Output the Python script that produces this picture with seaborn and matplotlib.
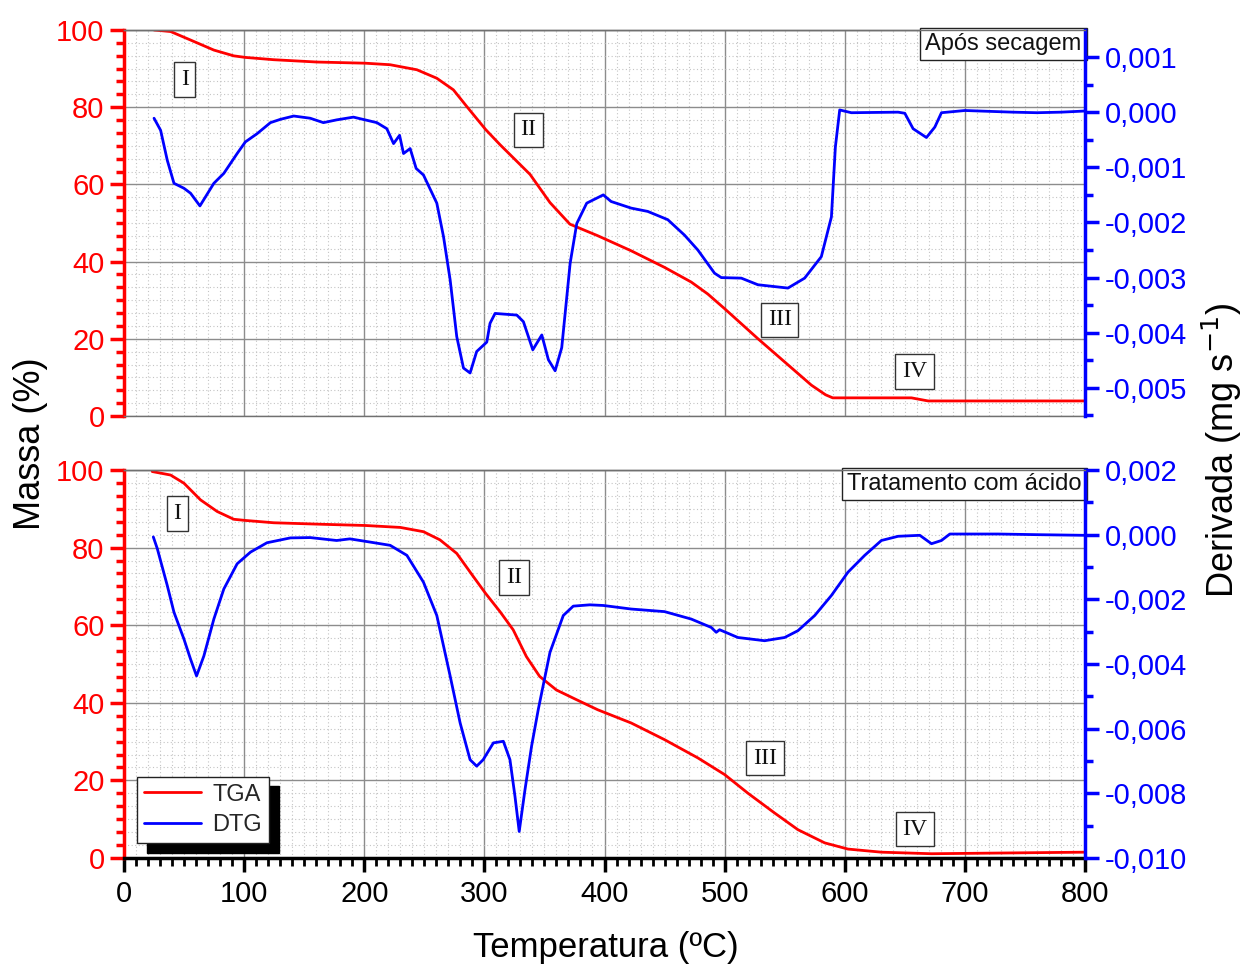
import numpy as np
import pandas as pd
import matplotlib
matplotlib.use("Agg")
import matplotlib.pyplot as plt
from matplotlib.ticker import MultipleLocator, AutoMinorLocator, FuncFormatter
import seaborn as sns

# ---------------- Após secagem ----------------
dry_tga_temp = [25, 38.8, 55.4, 74.8, 91.4, 101, 124.7, 160.7, 200.8, 221.6, 243.8, 260.4,
                274.2, 285.3, 301.1, 313, 338, 354.6, 371.2, 394.4, 422.2, 450, 472.2, 486,
                500, 527.8, 550, 572.2, 584, 590, 655.5, 669.4, 799.4]
dry_tga_mass = [100, 99.6, 97.4, 94.8, 93.3, 92.9, 92.3, 91.7, 91.4, 91.0, 89.7, 87.5,
                84.5, 80.2, 74.2, 70.3, 62.6, 55.3, 49.7, 46.7, 42.8, 38.5, 34.7, 31.6,
                27.8, 20.0, 14.0, 8.0, 5.5, 4.7, 4.7, 3.9, 3.9]

dry_dtg_temp = [25, 30.5, 36, 41.6, 49.9, 55.4, 63.2, 74.8, 83.1, 94.2, 101, 110.8, 121.9,
                130.2, 141.3, 155, 166, 177, 191, 210.5, 218.8, 224.4, 229.4, 232.7, 238.2,
                243.2, 249.3, 260.4, 266, 271.5, 277, 282.6, 288.1, 293.6, 302, 304.7,
                308.9, 327, 332.5, 340.3, 347.8, 353.3, 358.9, 364.4, 371.4, 376.9, 385.2,
                399, 405.5, 422.2, 436, 452.7, 466.6, 477.7, 491.6, 497.2, 513.9, 527.7,
                552.7, 566.6, 580.5, 588.9, 592.2, 595.8, 605.5, 644.4, 650, 656.9, 668,
                675, 680.5, 700, 740, 760, 780, 799.4]
# derivative in units of 1e-3 mg/s
dry_dtg_milli = [-0.11, -0.33, -0.87, -1.29, -1.38, -1.47, -1.70, -1.29, -1.11, -0.75, -0.54,
                 -0.39, -0.19, -0.13, -0.07, -0.11, -0.19, -0.14, -0.09, -0.19, -0.30, -0.57,
                 -0.42, -0.75, -0.66, -1.02, -1.14, -1.65, -2.26, -3.04, -4.07, -4.64, -4.73,
                 -4.34, -4.17, -3.83, -3.65, -3.68, -3.80, -4.31, -4.04, -4.49, -4.69, -4.27,
                 -2.74, -2.02, -1.65, -1.50, -1.62, -1.74, -1.80, -1.95, -2.23, -2.50, -2.92,
                 -3.00, -3.01, -3.13, -3.19, -3.01, -2.62, -1.90, -0.63, 0.04, -0.01, 0.0,
                 -0.02, -0.30, -0.46, -0.27, -0.01, 0.03, 0.0, -0.01, 0.0, 0.02]

# ---------------- Tratamento com ácido ----------------
acid_tga_temp = [23.5, 38.8, 49.9, 63.7, 77.6, 91.4, 101, 124.7, 166, 200.8, 230, 249.3,
                 263, 277, 290.9, 301, 313, 324, 335, 346, 360, 376.7, 394.4, 422.2, 450,
                 477.7, 500, 519.4, 541.6, 561, 583.3, 602.7, 630.5, 672.2, 799.4]
acid_tga_mass = [99.6, 98.7, 96.6, 92.3, 89.3, 87.3, 87.0, 86.4, 86.0, 85.7, 85.2, 84.1,
                 82.0, 78.5, 72.5, 68.2, 63.5, 58.8, 51.9, 46.8, 43.3, 40.8, 38.2, 34.8,
                 30.5, 25.8, 21.5, 16.7, 11.6, 7.3, 3.9, 2.3, 1.5, 1.1, 1.5]

acid_dtg_temp = [24.4, 27.7, 36, 41.6, 49.9, 55.4, 60.4, 66.5, 74.8, 83.1, 94.2, 105.3,
                 119, 138.5, 155, 177, 188, 205, 221.6, 235.5, 249.3, 260.4, 271.5, 279.8,
                 288.1, 293.6, 299, 307.5, 315.8, 321.3, 325.5, 329, 333.8, 339.3, 344.9,
                 354.6, 365.7, 374, 387.8, 399, 422.2, 450, 472.2, 488.9, 493, 495.8, 511,
                 533.3, 550, 561, 575, 588.9, 602.7, 616.6, 630.5, 644.4, 662.5, 672.2,
                 680.5, 687.5, 727.8, 760, 799.4]
acid_dtg_milli = [-0.07, -0.43, -1.57, -2.40, -3.23, -3.85, -4.37, -3.75, -2.61, -1.68,
                  -0.90, -0.54, -0.25, -0.10, -0.09, -0.18, -0.13, -0.23, -0.33, -0.64,
                  -1.47, -2.50, -4.37, -5.82, -6.96, -7.16, -6.96, -6.44, -6.39, -6.96,
                  -8.10, -9.18, -7.89, -6.54, -5.40, -3.64, -2.50, -2.21, -2.17, -2.19,
                  -2.30, -2.38, -2.61, -2.87, -3.02, -2.94, -3.18, -3.28, -3.18, -2.97,
                  -2.50, -1.88, -1.16, -0.64, -0.18, -0.05, -0.02, -0.28, -0.18, 0.02,
                  0.02, 0.0, -0.02]

panel_titles = ["Após secagem", "Tratamento com ácido"]
stage_labels = ["I", "II", "III", "IV"]
series_names = ["TGA", "DTG"]

RED = "#ff0000"
BLUE = "#0000ff"

sns.set_theme(style="white")
plt.rcParams["font.family"] = ["Liberation Sans", "DejaVu Sans"]

W, H = 1242, 976
fig = plt.figure(figsize=(W / 100, H / 100), dpi=100)

def box(l, t, r, b):
    return [l / W, 1 - b / H, (r - l) / W, (b - t) / H]

ax_top = fig.add_axes(box(124, 30, 1085, 416))
ax_bot = fig.add_axes(box(124, 470, 1085, 858))

comma = FuncFormatter(lambda v, p: f"{v:.3f}".replace(".", ","))

panels = [
    (ax_top, dry_tga_temp, dry_tga_mass, dry_dtg_temp, dry_dtg_milli,
     (-0.00551, 0.00149), 0.001, panel_titles[0],
     [(50.5, 87.2), (336.6, 74.1), (546, 24.9), (658, 11.5)]),
    (ax_bot, acid_tga_temp, acid_tga_mass, acid_dtg_temp, acid_dtg_milli,
     (-0.010, 0.002), 0.002, panel_titles[1],
     [(44.4, 88.8), (324.7, 72.3), (533.6, 25.7), (658.5, 7.4)]),
]

TICK_FS = 21

handles = []
for i, (ax, tt, tm, dt, dm, dlim, dstep, title, label_pos) in enumerate(panels):
    tga = pd.DataFrame({"T": tt, "m": tm})
    dtg = pd.DataFrame({"T": dt, "d": np.array(dm) * 1e-3})

    sns.lineplot(data=tga, x="T", y="m", ax=ax, color=RED, lw=2.0,
                 estimator=None, label=series_names[0], legend=False)
    ax.set_xlim(0, 800)
    ax.set_ylim(0, 100)
    ax.set_xlabel("")
    ax.set_ylabel("")

    # grid: solid gray majors, dotted light minors
    ax.xaxis.set_major_locator(MultipleLocator(100))
    ax.xaxis.set_minor_locator(AutoMinorLocator(10))
    ax.yaxis.set_major_locator(MultipleLocator(20))
    ax.yaxis.set_minor_locator(AutoMinorLocator(6))
    ax.grid(which="major", color="#8c8c8c", lw=1.0, ls="-")
    ax.grid(which="minor", color="#c4c4c4", lw=0.8, ls=(0, (1, 2.2)))
    ax.set_axisbelow(True)

    axr = ax.twinx()
    sns.lineplot(data=dtg, x="T", y="d", ax=axr, color=BLUE, lw=2.0,
                 estimator=None, label=series_names[1], legend=False)
    axr.set_ylim(*dlim)
    axr.set_ylabel("")
    axr.yaxis.set_major_locator(MultipleLocator(dstep))
    axr.yaxis.set_minor_locator(AutoMinorLocator(2))
    axr.yaxis.set_major_formatter(comma)
    axr.grid(False)

    # spines
    for a in (ax, axr):
        a.spines["top"].set_color("#707070")
        a.spines["top"].set_linewidth(1.0)
    ax.spines["left"].set_color(RED)
    ax.spines["left"].set_linewidth(2.5)
    axr.spines["right"].set_color(BLUE)
    axr.spines["right"].set_linewidth(2.5)
    axr.spines["left"].set_visible(False)
    ax.spines["right"].set_visible(False)

    ax.tick_params(axis="y", which="major", direction="out", length=10, width=2.5,
                   colors=RED, labelsize=TICK_FS, pad=4, left=True)
    ax.tick_params(axis="y", which="minor", direction="out", length=6, width=2.5,
                   colors=RED, left=True)
    axr.tick_params(axis="y", which="major", direction="out", length=10, width=2.5,
                    colors=BLUE, labelsize=TICK_FS, pad=4, right=True)
    axr.tick_params(axis="y", which="minor", direction="out", length=6, width=2.5,
                    colors=BLUE, right=True)

    if i == 0:
        ax.spines["bottom"].set_color("#707070")
        ax.spines["bottom"].set_linewidth(1.0)
        ax.tick_params(axis="x", which="both", bottom=False, labelbottom=False)
        axr.spines["bottom"].set_visible(False)
    else:
        ax.spines["bottom"].set_color("black")
        ax.spines["bottom"].set_linewidth(2.5)
        axr.spines["bottom"].set_visible(False)
        ax.tick_params(axis="x", which="major", direction="out", length=10, width=2.5,
                       colors="black", labelsize=TICK_FS, pad=6, bottom=True)
        ax.tick_params(axis="x", which="minor", direction="out", length=6, width=2.0,
                       colors="black", bottom=True)

    # panel title box in the upper right corner
    ax.text(0.9965, 0.993, title, transform=ax.transAxes, ha="right", va="top",
            fontsize=17, color="#111111",
            bbox=dict(boxstyle="square,pad=0.22", fc="white", ec="#222222", lw=1.0),
            zorder=10)

    # stage markers
    for lab, (x, y) in zip(stage_labels, label_pos):
        ax.text(x, y, lab, ha="center", va="center", fontsize=17,
                family=["Liberation Serif", "DejaVu Serif"], color="#111111",
                bbox=dict(boxstyle="square,pad=0.28", fc="white", ec="#333333", lw=1.0),
                zorder=10)

    if i == 1:
        handles = ax.get_lines()[:1] + axr.get_lines()[:1]

leg = ax_bot.legend(handles, series_names, loc="lower left",
                    bbox_to_anchor=(13 / 961, 15 / 388), borderaxespad=0,
                    fontsize=17, frameon=True, fancybox=False, handlelength=2.4,
                    handletextpad=0.5, borderpad=0.3, labelspacing=0.35,
                    shadow={"ox": 7, "oy": -7, "facecolor": "black",
                            "edgecolor": "black", "alpha": 1.0})
leg.get_frame().set_edgecolor("#222222")
leg.get_frame().set_linewidth(1.0)
leg.set_zorder(20)

fig.text(30 / W, 1 - 444 / H, "Massa (%)", rotation=90, ha="center", va="center",
         fontsize=26, color="black")
fig.text(1222 / W, 1 - 450 / H, "Derivada (mg s$^{-1}$)", rotation=90, ha="center",
         va="center", fontsize=26, color="black")
fig.text(606 / W, 1 - 947 / H, "Temperatura (ºC)", ha="center", va="center",
         fontsize=25, color="black")

fig.savefig("out.png", dpi=100, facecolor="white")
